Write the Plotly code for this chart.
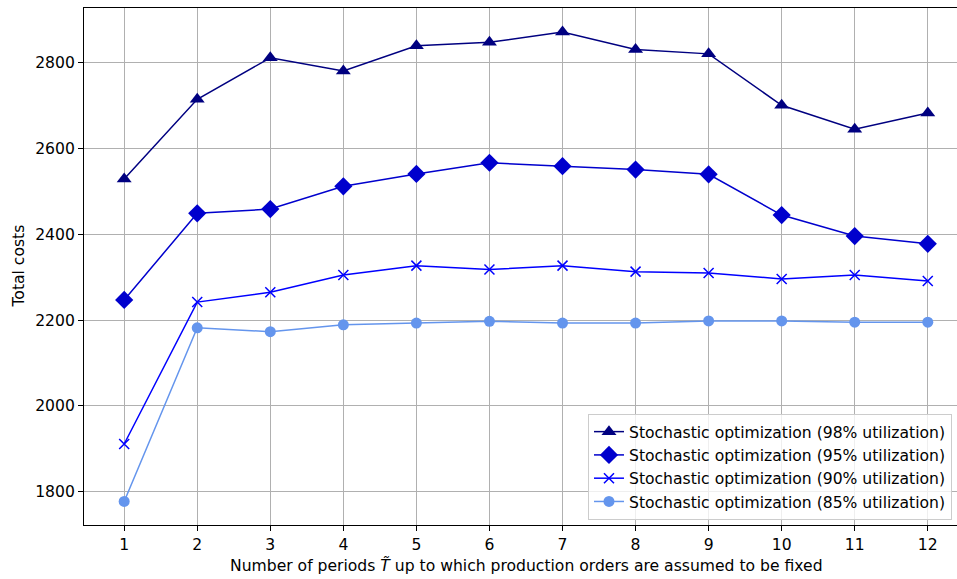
import plotly.graph_objects as go

periods = list(range(1, 13))
util_98 = [2529, 2715, 2812, 2781, 2840, 2848, 2872, 2831, 2821, 2701, 2645, 2683]
util_95 = [2247, 2449, 2459, 2512, 2541, 2567, 2559, 2551, 2540, 2445, 2396, 2378]
util_90 = [1911, 2242, 2265, 2305, 2327, 2318, 2327, 2313, 2310, 2296, 2305, 2291]
util_85 = [1777, 2182, 2173, 2189, 2193, 2197, 2193, 2193, 2198, 2198, 2195, 2195]

series = [
    ("Stochastic optimization (98% utilization)", util_98, "#000080", "triangle-up", 13),
    ("Stochastic optimization (95% utilization)", util_95, "#0000CD", "diamond", 14),
    ("Stochastic optimization (90% utilization)", util_90, "#0000FF", "x-thin", 10),
    ("Stochastic optimization (85% utilization)", util_85, "#6495ED", "circle", 11),
]

fig = go.Figure()
for name, vals, color, sym, size in series:
    marker = dict(symbol=sym, size=size, color=color)
    if sym == "x-thin":
        marker["line"] = dict(color=color, width=1.5)
    else:
        marker["line"] = dict(width=0)
    fig.add_trace(go.Scatter(x=periods, y=vals, mode="lines+markers", name=name,
                             line=dict(color=color, width=1.5), marker=marker))

font = "DejaVu Sans"
fs = 15.6
fig.update_layout(
    width=957, height=579,
    margin=dict(l=84, r=0, t=8, b=54, autoexpand=False),
    plot_bgcolor="white", paper_bgcolor="white",
    font=dict(family=font, size=fs, color="black"),
    legend=dict(x=0.5773, xanchor="left", y=0.0097, yanchor="bottom",
                bgcolor="rgba(255,255,255,0.8)", bordercolor="#cccccc", borderwidth=1,
                font=dict(size=fs), tracegroupgap=0),
    xaxis=dict(range=[0.45, 12.4], tickmode="array", tickvals=periods,
               ticktext=[str(p) for p in periods], automargin=False,
               showgrid=True, gridcolor="#b0b0b0", gridwidth=1.1,
               showline=True, linecolor="black", linewidth=1.1, mirror=True,
               ticks="outside", ticklen=5, tickcolor="black", zeroline=False),
    yaxis=dict(range=[1722, 2928], tickmode="array",
               tickvals=[1800, 2000, 2200, 2400, 2600, 2800], automargin=False,
               showgrid=True, gridcolor="#b0b0b0", gridwidth=1.1,
               showline=True, linecolor="black", linewidth=1.1, mirror=False,
               ticks="outside", ticklen=5, tickcolor="black", zeroline=False),
    annotations=[
        dict(text="Number of periods <i>T\u0303</i> up to which production orders are assumed to be fixed",
             xref="paper", yref="paper", x=0.507, y=-0.0793, xanchor="center", yanchor="middle",
             showarrow=False, font=dict(size=fs)),
        dict(text="Total costs", xref="paper", yref="paper", x=-0.0756, y=0.5,
             xanchor="center", yanchor="middle", textangle=-90, showarrow=False,
             font=dict(size=fs)),
    ],
)

fig.write_html("out.html", config={"displayModeBar": False},
               post_script="document.body.style.margin='0';")
